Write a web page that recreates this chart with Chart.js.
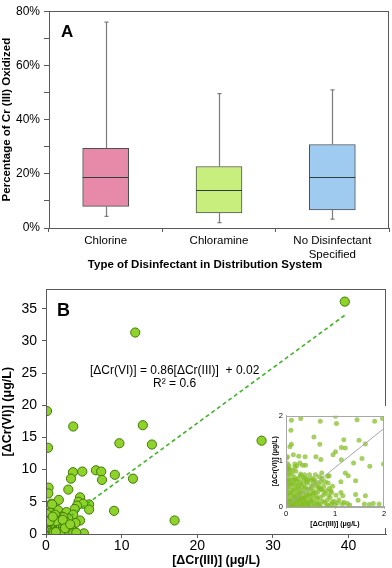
<!DOCTYPE html>
<html>
<head>
<meta charset="utf-8">
<script src="https://cdn.jsdelivr.net/npm/chart.js@4"></script>
<style>
  html, body { margin: 0; padding: 0; background: #fff; }
  body { width: 392px; height: 568px; position: relative; overflow: hidden; }
  .wrap { position: absolute; }
  #boxWrap { left: 0; top: 0; width: 392px; height: 272px; }
  #scatterWrap { left: 0; top: 276px; width: 392px; height: 292px; }
  #insetWrap { left: 269px; top: 406px; width: 119px; height: 122px; background: #fff; }
</style>
</head>
<body>
<div class="wrap" id="boxWrap"><canvas id="boxChart"></canvas></div>
<div class="wrap" id="scatterWrap"><canvas id="scatterChart"></canvas></div>
<div class="wrap" id="insetWrap"><canvas id="insetChart"></canvas></div>
<script>
// panel A - box plot (% of Cr(III) oxidized)
const tipos = ['Chlorine', 'Chloramine', ['No Disinfectant', 'Specified']];
const minimos = [4.3, 2.0, 3.3];
const cuartil1 = [8.0, 5.6, 6.7];
const medianas = [18.7, 14.0, 18.8];
const cuartil3 = [29.4, 22.7, 30.8];
const maximos = [76, 49.6, 51];
const coloresCaja = ['#e78aa9', '#c8ef7d', '#9fcbf1'];
const ticksA = [0, 20, 40, 60, 80];
const tituloXA = 'Type of Disinfectant in Distribution System';

// panel B - main scatter
const cr3 = [39.5, 11.8, 0.13, 3.6, 12.8, 0.26, 9.7, 14.0, 28.5, 3.56, 4.8, 3.3, 6.6, 7.3, 7.4, 9.1, 11.5,
  0.34, 0.3, 2.95, 1.7, 4.5, 4.3, 5.7, 4.9, 5.7, 4.1, 3.8, 9.0, 17.0, 0.7, 0.3, 0.3, 1.6, 2.7, 3.6, 1.0,
  2.1, 4.5, 3.9, 5.0, 3.2, 2.7, 0.8, 2.95,
  0.1, 0.2, 0.3, 0.4, 0.5, 0.6, 0.7, 0.8, 0.9, 1.0, 1.1, 1.2, 1.3, 1.4, 1.5, 1.6, 1.7, 1.8, 1.9, 2.0,
  2.1, 2.2, 2.3, 2.4, 2.5, 2.6, 2.8, 3.0, 3.1, 3.3, 3.5, 0.15, 0.25, 0.35, 0.45, 0.55, 0.05, 0.1, 0.2,
  0.6, 1.0, 1.5, 2.0, 2.7, 0.8, 1.2, 1.4, 0.9, 0.3, 0.7, 1.9, 2.2, 1.1, 0.4, 0.05, 3.4, 2.9, 0.1, 0.2, 0.02,
  0.05, 0.15, 0.25, 0.35, 0.45, 0.55, 0.65, 0.75, 0.85, 0.95,
  1.05, 1.15, 1.25, 1.35, 1.45, 1.55, 1.65, 1.75, 1.85, 1.95,
  2.05, 2.15, 2.25, 2.35, 2.45, 2.55, 2.65, 2.75, 2.85, 3.05,
  0.12, 0.42, 0.72, 1.02, 1.32, 1.62, 1.92, 2.22, 2.52, 0.5,
  0.9, 1.3, 3.2, 3.6, 4.0];
const cr6 = [36.1, 31.3, 19.1, 16.7, 16.9, 13.4, 14.1, 13.9, 14.5, 9.6, 9.7, 8.6, 9.9, 9.7, 8.4, 9.2, 8.6,
  7.2, 6.3, 6.9, 5.3, 5.7, 5.0, 4.6, 4.7, 3.8, 4.4, 3.9, 3.6, 2.1, 4.7, 4.3, 3.7, 3.7, 3.4, 3.0, 2.9,
  2.7, 2.1, 1.7, 0.1, 0.4, 2.2, 4.6, 2.4,
  0.2, 0.5, 0.1, 0.8, 0.3, 1.2, 0.6, 0.2, 1.5, 0.9, 0.4, 1.9, 0.7, 0.2, 1.1, 2.4, 0.5, 1.4, 0.1, 0.8,
  1.7, 0.3, 2.6, 1.0, 0.4, 1.9, 0.6, 1.2, 0.2, 0.9, 0.3, 1.0, 1.6, 2.2, 2.9, 3.3, 2.6, 3.1, 0.0,
  0.0, 0.0, 0.0, 0.05, 0.1, 2.5, 3.0, 1.3, 0.6, 1.3, 1.8, 2.1, 1.4, 2.3, 0.1, 0.05, 0.6, 0.1, 0.9, 1.9, 1.2,
  0.4, 0.1, 0.9, 0.3, 1.4, 0.1, 0.8, 1.3, 0.4, 0.1,
  1.6, 0.5, 0.05, 1.0, 0.6, 1.8, 0.2, 0.9, 0.5, 1.3,
  0.2, 0.6, 1.1, 0.1, 1.6, 0.7, 0.2, 1.0, 0.5, 0.3,
  1.8, 1.9, 2.2, 0.2, 2.0, 0.1, 0.3, 2.2, 0.9, 2.0,
  2.7, 0.3, 1.5, 0.1, 0.2];
const tendenciaX = [3.2, 39.5];
const tendenciaY = [2.77, 33.99];
const ecuacion = '[ΔCr(VI)] = 0.86[ΔCr(III)]  + 0.02';
const r2 = 'R² = 0.6';

// inset (zoom 0-2 ug/L)
const insetPuntos = [
  [0.11, 1.90], [0.30, 1.94], [0.70, 1.88], [1.01, 1.99], [1.03, 1.83], [1.45, 1.91], [1.81, 1.88], [1.97, 1.94],
  [0.10, 1.68], [0.57, 1.53], [1.18, 1.47], [1.49, 1.46], [1.62, 1.38], [0.69, 1.37], [0.11, 1.37], [0.08, 1.32],
  [1.13, 1.30], [1.21, 1.29], [1.01, 1.21], [0.96, 1.14], [0.15, 1.14], [0.03, 1.10], [0.01, 1.07], [0.26, 1.11],
  [0.39, 1.10], [0.61, 1.10], [0.71, 1.04], [1.13, 1.03], [1.38, 0.96], [1.55, 1.06], [1.99, 0.94], [1.71, 0.89],
  [0.18, 0.94], [0.28, 0.96], [0.34, 0.91], [0.40, 0.91], [0.18, 0.87], [0.08, 0.81], [0.04, 0.77], [1.21, 0.74],
  [1.27, 0.68], [0.73, 0.74], [0.85, 0.67], [0.88, 0.68], [1.42, 0.57], [1.12, 0.55], [0.86, 0.52], [0.68, 0.42],
  [0.73, 0.38], [0.93, 0.31], [1.12, 0.31], [1.16, 0.24], [1.42, 0.27], [1.47, 0.14], [1.62, 0.24], [1.60, 0.06],
  [1.70, 0.05], [1.78, 0.07], [1.90, 0.06], [1.25, 0.07], [1.15, 0.06], [1.05, 0.08],
  [0.02, 0.05], [0.05, 0.15], [0.08, 0.3], [0.1, 0.5], [0.12, 0.05], [0.15, 0.2], [0.18, 0.4], [0.2, 0.6],
  [0.22, 0.1], [0.25, 0.3], [0.28, 0.5], [0.3, 0.02], [0.32, 0.2], [0.35, 0.65], [0.38, 0.4], [0.4, 0.1],
  [0.42, 0.55], [0.45, 0.25], [0.48, 0.7], [0.5, 0.05], [0.52, 0.45], [0.55, 0.15], [0.58, 0.6], [0.6, 0.3],
  [0.63, 0.05], [0.66, 0.5], [0.7, 0.2], [0.74, 0.62], [0.78, 0.1], [0.82, 0.35], [0.86, 0.02], [0.9, 0.2],
  [0.95, 0.45], [0.03, 0.4], [0.06, 0.6], [0.04, 0.55], [0.07, 0.02], [0.09, 0.12], [0.13, 0.35], [0.16, 0.58],
  [0.19, 0.02], [0.21, 0.25], [0.24, 0.45], [0.27, 0.15], [0.29, 0.68], [0.31, 0.35], [0.34, 0.05], [0.36, 0.5],
  [0.39, 0.22], [0.41, 0.62], [0.44, 0.02], [0.46, 0.38], [0.49, 0.15], [0.51, 0.58], [0.54, 0.3], [0.57, 0.02],
  [0.61, 0.45], [0.64, 0.18], [0.68, 0.05], [0.72, 0.38], [0.76, 0.25], [0.8, 0.55], [0.84, 0.15], [0.88, 0.4],
  [0.92, 0.05], [0.98, 0.12], [1.02, 0.25], [0.01, 0.25], [0.02, 0.7], [0.05, 0.85], [0.12, 0.72], [0.2, 0.78],
  [0.6, 0.7], [0.68, 0.66], [0.1, 0.1], [0.15, 0.0], [0.25, 0.0], [0.35, 0.12], [0.45, 0.08], [0.55, 0.25],
  [0.65, 0.32], [0.03, 0.95],
  [0.01, 0.1], [0.01, 0.35], [0.01, 0.5], [0.02, 0.6], [0.02, 0.82], [0.04, 0.2], [0.04, 0.45], [0.05, 0.02],
  [0.06, 0.3], [0.07, 0.7], [0.08, 0.12], [0.08, 0.5], [0.1, 0.25], [0.11, 0.4], [0.11, 0.6], [0.12, 0.15],
  [0.13, 0.02], [0.14, 0.5], [0.15, 0.3], [0.16, 0.1], [0.17, 0.65], [0.18, 0.22], [0.19, 0.48], [0.2, 0.05],
  [0.21, 0.36], [0.22, 0.55], [0.23, 0.18], [0.25, 0.62], [0.26, 0.08], [0.27, 0.4], [0.28, 0.28], [0.3, 0.55],
  [0.31, 0.12], [0.32, 0.45], [0.33, 0.02], [0.34, 0.3], [0.36, 0.18], [0.37, 0.6], [0.38, 0.05], [0.4, 0.42],
  [0.41, 0.3], [0.43, 0.12], [0.44, 0.52], [0.46, 0.05], [0.47, 0.28], [0.5, 0.4], [0.52, 0.12], [0.53, 0.62],
  [0.56, 0.35], [0.58, 0.08], [0.6, 0.55], [0.62, 0.22], [0.65, 0.1], [0.67, 0.4], [0.7, 0.02], [0.71, 0.55],
  [0.74, 0.12], [0.77, 0.45], [0.79, 0.3], [0.83, 0.05], [0.87, 0.25], [0.91, 0.35], [0.94, 0.1], [1.0, 0.04],
  [1.08, 0.15], [1.18, 0.1], [1.3, 0.04], [0.5, 0.22], [0.45, 0.6], [0.3, 0.72], [0.38, 0.7], [0.55, 0.5],
  [0.06, 0.9], [0.14, 0.8], [0.22, 0.9], [0.1, 0.02], [0.2, 0.15], [0.3, 0.2], [0.4, 0.2], [0.26, 0.18]
];
const insetLineaX = [0, 2];
const insetLineaY = [0, 1.72];

const fuente = "'Liberation Sans', Arial, sans-serif";
Chart.defaults.font.family = fuente;
Chart.defaults.color = '#000';

// marco alrededor del area del grafico
const marco = {
  id: 'marco',
  afterDraw(chart, args, opts) {
    const a = chart.chartArea;
    const ctx = chart.ctx;
    ctx.save();
    ctx.strokeStyle = opts.color || '#555';
    ctx.lineWidth = 1;
    ctx.strokeRect(Math.round(a.left) + 0.5, Math.round(a.top) + 0.5, Math.round(a.right - a.left) - 1, Math.round(a.bottom - a.top));
    ctx.restore();
  }
};

// bigotes y mediana de las cajas
const bigotes = {
  id: 'bigotes',
  afterDatasetsDraw(chart) {
    const ctx = chart.ctx;
    const x = chart.scales.x;
    const y = chart.scales.y;
    const barras = chart.getDatasetMeta(0).data;
    ctx.save();
    for (let i = 0; i < tipos.length; i++) {
      const cx = Math.round(x.getPixelForValue(i)) + 0.5;
      ctx.strokeStyle = '#7c7c7c';
      ctx.lineWidth = 1.2;
      ctx.beginPath();
      ctx.moveTo(cx, y.getPixelForValue(cuartil3[i]));
      ctx.lineTo(cx, y.getPixelForValue(maximos[i]));
      ctx.moveTo(cx - 2, y.getPixelForValue(maximos[i]));
      ctx.lineTo(cx + 2, y.getPixelForValue(maximos[i]));
      ctx.moveTo(cx, y.getPixelForValue(cuartil1[i]));
      ctx.lineTo(cx, y.getPixelForValue(minimos[i]));
      ctx.moveTo(cx - 2, y.getPixelForValue(minimos[i]));
      ctx.lineTo(cx + 2, y.getPixelForValue(minimos[i]));
      ctx.stroke();
      const mitad = barras[i].width / 2;
      const my = Math.round(y.getPixelForValue(medianas[i])) + 0.5;
      ctx.strokeStyle = '#2f3f3f';
      ctx.lineWidth = 1;
      ctx.beginPath();
      ctx.moveTo(barras[i].x - mitad, my);
      ctx.lineTo(barras[i].x + mitad, my);
      ctx.stroke();
    }
    ctx.restore();
  }
};

const textosA = {
  id: 'textosA',
  afterDraw(chart) {
    const ctx = chart.ctx;
    ctx.save();
    ctx.font = 'bold 17px ' + fuente;
    ctx.fillStyle = '#000';
    ctx.fillText('A', chart.chartArea.left + 12, chart.chartArea.top + 26);
    // axis title sits a bit left of the plot centre in the original
    ctx.font = 'bold 11.5px ' + fuente;
    ctx.textAlign = 'center';
    ctx.textBaseline = 'middle';
    ctx.fillText(tituloXA, 205, 265);
    ctx.restore();
  }
};

new Chart(document.getElementById('boxChart'), {
  type: 'bar',
  data: {
    labels: tipos,
    datasets: [{
      data: tipos.map((t, i) => [cuartil1[i], cuartil3[i]]),
      backgroundColor: coloresCaja,
      borderColor: '#505050',
      borderWidth: 1,
      borderSkipped: false,
      barThickness: 46
    }]
  },
  options: {
    responsive: true,
    maintainAspectRatio: false,
    animation: false,
    layout: { padding: { top: 4, right: 3, left: 0, bottom: 0 } },
    plugins: { legend: { display: false }, tooltip: { enabled: false }, marco: { color: '#5a5a5a' } },
    scales: {
      x: {
        grid: { offset: true, drawOnChartArea: false, tickLength: 4, color: '#5a5a5a' },
        border: { color: '#5a5a5a' },
        ticks: { font: { size: 11.5 }, padding: 2, maxRotation: 0 },
        title: { display: false },
        afterFit(s) { s.height = 44; }
      },
      y: {
        min: 0,
        max: 80,
        grid: { drawOnChartArea: false, tickLength: 5, color: '#5a5a5a' },
        border: { color: '#5a5a5a' },
        ticks: {
          stepSize: 10,
          font: { size: 12 },
          padding: 4,
          callback: v => ticksA.includes(v) ? v + '%' : ''
        },
        title: { display: true, text: 'Percentage of Cr (III) Oxidized', font: { size: 11.5, weight: 'bold' }, padding: 0 },
        afterFit(s) { s.width = 49; }
      }
    }
  },
  plugins: [bigotes, marco, textosA]
});

const textosB = {
  id: 'textosB',
  afterDraw(chart) {
    const ctx = chart.ctx;
    const x = chart.scales.x;
    const y = chart.scales.y;
    ctx.save();
    ctx.fillStyle = '#000';
    ctx.font = 'bold 18px ' + fuente;
    ctx.fillText('B', chart.chartArea.left + 11, chart.chartArea.top + 27);
    ctx.font = '12px ' + fuente;
    ctx.textAlign = 'center';
    ctx.textBaseline = 'middle';
    ctx.fillText(ecuacion, x.getPixelForValue(17), y.getPixelForValue(25.4));
    ctx.fillText(r2, x.getPixelForValue(17), y.getPixelForValue(23.3));
    ctx.restore();
  }
};

new Chart(document.getElementById('scatterChart'), {
  type: 'scatter',
  data: {
    datasets: [{
      data: tendenciaX.map((v, i) => ({ x: v, y: tendenciaY[i] })),
      showLine: true,
      borderColor: '#3fb526',
      borderWidth: 1.6,
      borderDash: [4, 3],
      pointRadius: 0
    }, {
      data: cr3.map((v, i) => ({ x: v, y: cr6[i] })),
      pointRadius: 4.6,
      backgroundColor: '#8fd22b',
      borderColor: '#3f7a03',
      borderWidth: 1
    }]
  },
  options: {
    responsive: true,
    maintainAspectRatio: false,
    animation: false,
    layout: { padding: { top: 13, right: 2, left: 0, bottom: 0 } },
    plugins: { legend: { display: false }, tooltip: { enabled: false }, marco: { color: '#5a5a5a' } },
    scales: {
      x: {
        type: 'linear',
        min: 0,
        max: 45,
        grid: { drawOnChartArea: false, tickLength: 4, color: '#5a5a5a' },
        border: { color: '#5a5a5a' },
        ticks: { stepSize: 10, includeBounds: false, font: { size: 14 }, padding: 0, maxRotation: 0 },
        title: { display: true, text: '[ΔCr(III)] (μg/L)', font: { size: 12.5, weight: 'bold' }, padding: 0 },
        afterFit(s) { s.height = 34; }
      },
      y: {
        min: 0,
        max: 38,
        grid: { drawOnChartArea: false, tickLength: 4, color: '#5a5a5a' },
        border: { color: '#5a5a5a' },
        ticks: { stepSize: 5, includeBounds: false, font: { size: 14 }, padding: 5 },
        title: { display: true, text: '[ΔCr(VI)] (μg/L)', font: { size: 12.5, weight: 'bold' }, padding: 0 },
        afterFit(s) { s.width = 46; }
      }
    }
  },
  plugins: [marco, textosB]
});

new Chart(document.getElementById('insetChart'), {
  type: 'scatter',
  data: {
    datasets: [{
      data: insetLineaX.map((v, i) => ({ x: v, y: insetLineaY[i] })),
      showLine: true,
      borderColor: '#a6a6a6',
      borderWidth: 1,
      pointRadius: 0
    }, {
      data: insetPuntos.map(p => ({ x: p[0], y: p[1] })),
      pointRadius: 2.5,
      backgroundColor: 'rgba(132, 190, 36, 0.72)',
      borderWidth: 0
    }]
  },
  options: {
    responsive: true,
    maintainAspectRatio: false,
    animation: false,
    layout: { padding: { top: 9.7, right: 1.3, left: 0, bottom: 0 } },
    plugins: { legend: { display: false }, tooltip: { enabled: false }, marco: { color: '#a8a8a8' } },
    scales: {
      x: {
        type: 'linear',
        min: 0,
        max: 2,
        grid: { drawOnChartArea: false, tickLength: 2, color: '#a8a8a8' },
        border: { color: '#a8a8a8' },
        ticks: { stepSize: 1, font: { size: 7.5 }, padding: 1, maxRotation: 0 },
        title: { display: true, text: '[ΔCr(III)] (μg/L)', font: { size: 7, weight: 'bold' }, padding: 0 },
        afterFit(s) { s.height = 21.3; }
      },
      y: {
        min: 0,
        max: 2,
        grid: { drawOnChartArea: false, tickLength: 0, color: '#a8a8a8' },
        border: { color: '#a8a8a8' },
        ticks: { stepSize: 1, font: { size: 7.5 }, padding: 3 },
        title: { display: true, text: '[ΔCr(VI)] (μg/L)', font: { size: 7, weight: 'bold' }, padding: 2 },
        afterFit(s) { s.width = 17; }
      }
    }
  },
  plugins: [marco]
});
</script>
</body>
</html>
